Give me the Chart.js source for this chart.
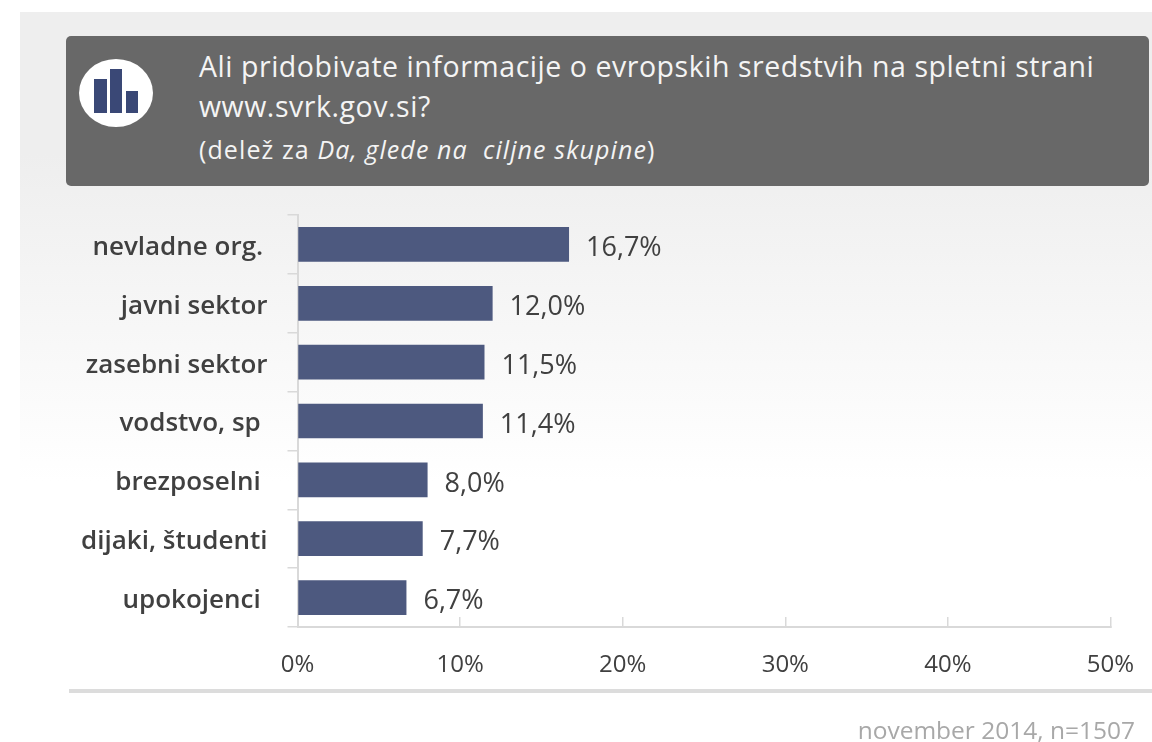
<!DOCTYPE html>
<html lang="sl">
<head>
<meta charset="utf-8">
<title>Ali pridobivate informacije o evropskih sredstvih</title>
<script src="https://cdn.jsdelivr.net/npm/chart.js@4"></script>
<style>
html,body{margin:0;padding:0;background:#fff;width:1152px;height:742px;overflow:hidden}
#bg{position:absolute;left:20px;top:12px;width:1132px;height:470px;background:linear-gradient(#eeeeee 0%,#eeeeee 30%,#ffffff 100%)}
#head{position:absolute;left:66px;top:36px;width:1083px;height:150px;background:#686868;border-radius:5px;color:#f4f4f4;font-family:"Open Sans",sans-serif}
#l1,#l2,#l3{position:absolute;left:133px;white-space:nowrap}
#l1{top:12px;font-size:28.5px;line-height:36px;letter-spacing:.54px}
#l2{top:52px;font-size:28.5px;line-height:36px;letter-spacing:.54px}
#l3{top:98px;font-size:25px;line-height:30px;letter-spacing:1.1px}
#icon{position:absolute;left:13px;top:23px;width:74px;height:68px;background:#fff;border-radius:50%}
#icon i{position:absolute;background:#3a4876;bottom:14px}
#c{position:absolute;left:0;top:0}
#rule{position:absolute;left:69px;top:689px;width:1083px;height:4px;background:#dcdcdc}
#foot{position:absolute;right:17px;top:716px;font:24.5px "Open Sans",sans-serif;color:#a8a8a8;white-space:nowrap;line-height:28px}
</style>
</head>
<body>
<div id="bg"></div>
<div id="head">
  <div id="icon"><i style="left:15px;width:13px;height:34px"></i><i style="left:31px;width:12px;height:44px"></i><i style="left:47px;width:12px;height:22px"></i></div>
  <div id="l1">Ali pridobivate informacije o evropskih sredstvih na spletni strani</div>
  <div id="l2">www.svrk.gov.si?</div>
  <div id="l3">(delež za <em>Da, glede na&nbsp; ciljne skupine</em>)</div>
</div>
<canvas id="c" width="1152" height="742"></canvas>
<div id="rule"></div>
<div id="foot">november 2014, n=1507</div>
<script>
const categories = ["nevladne org.\u2009", "javni sektor", "zasebni sektor", "vodstvo, sp ", "brezposelni ", "dijaki, študenti", "upokojenci "];
const values = [16.7, 12.0, 11.5, 11.4, 8.0, 7.7, 6.7];
const valueLabels = ["16,7%", "12,0%", "11,5%", "11,4%", "8,0%", "7,7%", "6,7%"];
const axisTicks = [0, 10, 20, 30, 40, 50];

const FONT = '"Open Sans", sans-serif';
const barLabels = {
  id: 'barLabels',
  afterDatasetsDraw(chart) {
    const { ctx } = chart;
    ctx.save();
    ctx.font = '27px ' + FONT;
    ctx.fillStyle = '#404040';
    ctx.textBaseline = 'middle';
    chart.getDatasetMeta(0).data.forEach((bar, i) => {
      ctx.fillText(valueLabels[i], bar.x + 17, bar.y + 4);
    });
    ctx.restore();
  }
};

new Chart(document.getElementById('c'), {
  type: 'bar',
  data: {
    labels: categories,
    datasets: [{ data: values, backgroundColor: '#4d597f', borderWidth: 0, barPercentage: 1, categoryPercentage: 0.59 }]
  },
  options: {
    indexAxis: 'y',
    responsive: false,
    animation: false,
    layout: { padding: { top: 215, right: 41.5, left: 0, bottom: 0 } },
    plugins: { legend: { display: false }, tooltip: { enabled: false } },
    scales: {
      x: {
        min: 0, max: 50,
        afterBuildTicks(s) { s.ticks = axisTicks.map(v => ({ value: v })); },
        afterFit(s) { s.height = 742 - 215 - 412; s.paddingLeft = 0; s.paddingRight = 0; },
        border: { color: '#d9d9d9', width: 2 },
        grid: { drawOnChartArea: false, color: '#d9d9d9', lineWidth: 1.5, tickLength: -10 },
        ticks: { padding: 34, maxRotation: 0, color: '#404040', font: { family: FONT, size: 24 }, callback: v => v + '%' }
      },
      y: {
        afterFit(s) { s.width = 297.5; s.paddingTop = 0; s.paddingBottom = 0; },
        border: { color: '#d9d9d9', width: 2 },
        grid: { drawOnChartArea: false, color: '#d9d9d9', lineWidth: 1.5, tickLength: 10, offset: true },
        ticks: { padding: 20, labelOffset: 3, color: '#404040', font: { family: FONT, size: 26, weight: '600' } }
      }
    }
  },
  plugins: [barLabels]
});
</script>
</body>
</html>
